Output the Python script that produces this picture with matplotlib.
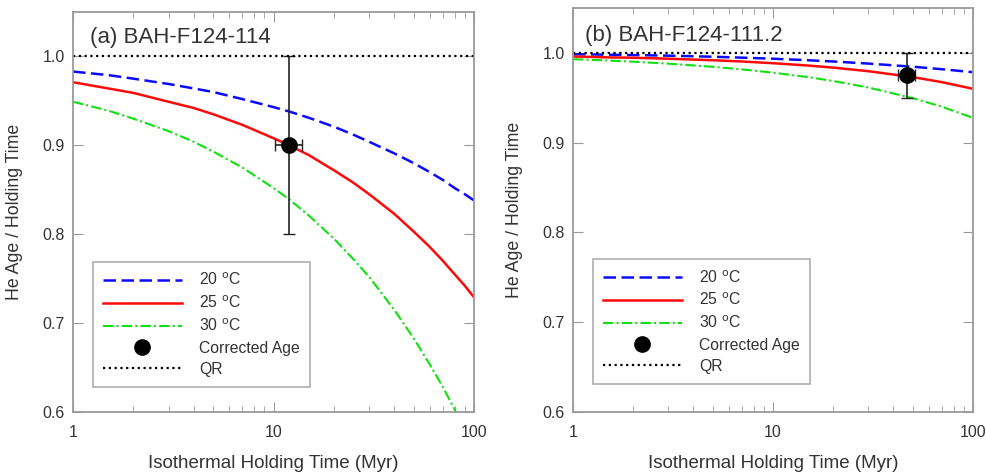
import numpy as np
import matplotlib.pyplot as plt
from matplotlib.ticker import FixedLocator, FormatStrFormatter, NullFormatter

plt.rcParams['font.family'] = ['Liberation Sans', 'DejaVu Sans']

# panel (a) BAH-F124-114, holding time (Myr) and ratio
ta = [1, 1.5, 2, 3, 4, 5, 7, 10, 12, 15, 20, 25, 30, 40, 50, 60, 70, 80, 90, 100]
a_20 = [0.983, 0.979, 0.975, 0.969, 0.964, 0.960, 0.952, 0.943, 0.938, 0.931,
        0.921, 0.912, 0.904, 0.891, 0.880, 0.870, 0.861, 0.852, 0.845, 0.838]
a_25 = [0.971, 0.964, 0.959, 0.949, 0.942, 0.935, 0.923, 0.908, 0.900, 0.889,
        0.872, 0.858, 0.845, 0.823, 0.803, 0.786, 0.770, 0.755, 0.742, 0.729]
a_30 = [0.949, 0.939, 0.930, 0.916, 0.904, 0.893, 0.875, 0.852, 0.839, 0.821,
        0.795, 0.772, 0.752, 0.715, 0.683, 0.654, 0.628, 0.603, 0.580, 0.558]
a_pt = (11.9, 0.900)
a_xerr = [[1.7], [1.9]]
a_yerr = 0.1

# panel (b) BAH-F124-111.2
tb = [1, 1.5, 2, 3, 5, 7, 10, 15, 20, 30, 50, 70, 100]
b_20 = [0.9985, 0.998, 0.9976, 0.9969, 0.9957, 0.9947, 0.9935, 0.9918, 0.9904,
        0.9881, 0.9846, 0.9818, 0.9785]
b_25 = [0.996, 0.995, 0.9946, 0.9935, 0.9918, 0.9904, 0.9885, 0.9859, 0.9836,
        0.9796, 0.9730, 0.9674, 0.960]
b_30 = [0.993, 0.9915, 0.9902, 0.988, 0.9845, 0.9816, 0.978, 0.973, 0.9687,
        0.9614, 0.9496, 0.940, 0.9276]
b_pt = (47, 0.975)
b_xerr = [[5.0], [4.5]]
b_yerr = 0.025

titles = ["(a) BAH-F124-114", "(b) BAH-F124-111.2"]
labels = ["20 $^{\\rm o}$C", "25 $^{\\rm o}$C", "30 $^{\\rm o}$C", "Corrected Age", "QR"]

fig = plt.figure(figsize=(9.87, 4.73), dpi=100)
ax1 = fig.add_axes([73 / 987, 1 - 412 / 473, 401 / 987, 400 / 473])
ax2 = fig.add_axes([573 / 987, 1 - 412 / 473, 400 / 987, 404 / 473])

panels = [
    (ax1, ta, a_20, a_25, a_30, a_pt, a_xerr, a_yerr, (0.05, 0.0625), (0.042, 0.962)),
    (ax2, tb, b_20, b_25, b_30, b_pt, b_xerr, b_yerr, (0.05, 0.069), (0.03, 0.958)),
]

gray = "#9a9a9a"
txt = "#333333"
c20, c25, c30 = "#0a0aff", "#ff0a0a", "#11e011"
ls20 = (0, (5, 2.2))
ls30 = (0, (5, 1.5, 1, 1.5))
lsqr = (0, (1, 1.6))

for i, (ax, t, s20, s25, s30, pt, xe, ye, lpos, tpos) in enumerate(panels):
    ax.plot(t, s20, color=c20, ls=ls20, lw=1.8)
    ax.plot(t, s25, color=c25, ls="-", lw=1.8)
    ax.plot(t, s30, color=c30, ls=ls30, lw=1.5)
    ax.errorbar([pt[0]], [pt[1]], xerr=xe, yerr=ye, fmt="o", color="black",
                ms=11, ecolor="#222222", elinewidth=1.2, capsize=4.5, capthick=1)
    ax.axhline(1.0, color="black", ls=lsqr, lw=1.6)

    # legend handles
    h = [
        plt.Line2D([], [], color=c20, ls=ls20, lw=1.8),
        plt.Line2D([], [], color=c25, ls="-", lw=1.8),
        plt.Line2D([], [], color=c30, ls=ls30, lw=1.5),
        plt.Line2D([], [], color="black", marker="o", ms=11, ls="none"),
        plt.Line2D([], [], color="black", ls=lsqr, lw=1.6),
    ]
    leg = ax.legend(h, labels, loc="lower left", bbox_to_anchor=lpos, fontsize=11.3,
                    frameon=True, fancybox=False, handlelength=5.0, handletextpad=1.1,
                    labelspacing=0.4, borderpad=0.65, borderaxespad=0,
                    labelcolor=txt)
    leg.get_frame().set_edgecolor(gray)
    leg.get_frame().set_linewidth(1.2)

    ax.set_xscale("log")
    ax.set_xlim(1, 100)
    ax.set_ylim(0.6, 1.05)
    ax.yaxis.set_major_locator(FixedLocator([0.6, 0.7, 0.8, 0.9, 1.0]))
    ax.yaxis.set_major_formatter(FormatStrFormatter("%.1f"))
    ax.xaxis.set_minor_formatter(NullFormatter())
    ax.set_xticks([1, 10, 100])
    ax.set_xticklabels(["1", "10", "100"])
    ax.tick_params(which="both", direction="in", top=True, right=True,
                   color=gray, labelcolor=txt, labelsize=11.5)
    ax.tick_params(which="major", length=7)
    ax.tick_params(which="minor", length=4)
    ax.tick_params(axis="x", pad=9)
    ax.tick_params(axis="y", pad=6)
    for sp in ax.spines.values():
        sp.set_color(gray)
        sp.set_linewidth(1.3)

    ax.set_xlabel("Isothermal Holding Time (Myr)", fontsize=13.5, color=txt, labelpad=11)
    ax.set_ylabel("He Age / Holding Time", fontsize=12.8, color=txt, labelpad=14)
    ax.text(tpos[0], tpos[1], titles[i], transform=ax.transAxes, fontsize=16,
            color=txt, va="top", ha="left")

fig.savefig("out.png", dpi=100)
